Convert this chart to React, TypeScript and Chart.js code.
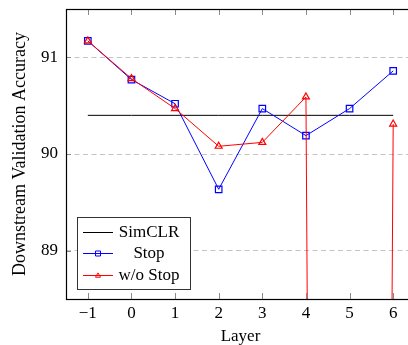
import React, { useEffect, useRef } from 'react';
import { Chart, registerables } from 'chart.js';

Chart.register(...registerables);

const layers = [-1, 0, 1, 2, 3, 4, 5, 6];
const simclrAcc = [90.4, 90.4, 90.4, 90.4, 90.4, 90.4, 90.4, 90.4];
const stopAcc = [91.17, 90.77, 90.52, 89.635, 90.47, 90.19, 90.47, 90.86];
const woStopAcc = [91.17, 90.78, 90.47, 90.08, 90.12, 90.59, 20, 90.31];
const seriesLabels = ['SimCLR', 'Stop', 'w/o Stop'];
const yTickValues = [89, 90, 91];
const xTickValues = [-1, 0, 1, 2, 3, 4, 5, 6];

const FONT = "'Liberation Serif', 'Times New Roman', serif";

function drawMarker(ctx: CanvasRenderingContext2D, kind: string, x: number, y: number, s: number, color: string) {
  ctx.save();
  ctx.strokeStyle = color;
  ctx.lineWidth = 1;
  ctx.beginPath();
  if (kind === 'rect') {
    ctx.rect(x - s / 2, y - s / 2, s, s);
  } else if (kind === 'triangle') {
    const h = s * 0.866;
    ctx.moveTo(x, y - h * 0.6);
    ctx.lineTo(x + s / 2, y + h * 0.4);
    ctx.lineTo(x - s / 2, y + h * 0.4);
    ctx.closePath();
  }
  ctx.stroke();
  ctx.restore();
}

const framePlugin = {
  id: 'framePlugin',
  afterDraw(chart: any) {
    const { ctx, chartArea } = chart;
    const { left, right, top, bottom } = chartArea;
    const xs = chart.scales.x;
    const ys = chart.scales.y;
    ctx.save();
    // tick marks (inward)
    ctx.strokeStyle = '#8a8a8a';
    ctx.lineWidth = 1;
    ctx.beginPath();
    for (const v of xTickValues) {
      const px = Math.round(xs.getPixelForValue(v)) + 0.5;
      ctx.moveTo(px, bottom);
      ctx.lineTo(px, bottom - 6);
      ctx.moveTo(px, top);
      ctx.lineTo(px, top + 6);
    }
    for (const v of yTickValues) {
      const py = Math.round(ys.getPixelForValue(v)) + 0.5;
      ctx.moveTo(left, py);
      ctx.lineTo(left + 5, py);
      ctx.moveTo(right, py);
      ctx.lineTo(right - 5, py);
    }
    ctx.stroke();
    // frame
    ctx.strokeStyle = '#000';
    ctx.lineWidth = 1.2;
    ctx.strokeRect(Math.round(left) + 0.5, Math.round(top) + 0.5, Math.round(right - left), Math.round(bottom - top));

    // legend
    const lx = left + 11;
    const ly = bottom - 82;
    const lw = 113;
    const lh = 72;
    ctx.fillStyle = '#fff';
    ctx.fillRect(lx, ly, lw, lh);
    ctx.strokeStyle = '#333';
    ctx.lineWidth = 1;
    ctx.strokeRect(Math.round(lx) + 0.5, Math.round(ly) + 0.5, lw, lh);
    const rows = [15, 36, 58];
    const kinds = ['none', 'rect', 'triangle'];
    chart.data.datasets.forEach((ds: any, i: number) => {
      const y = ly + rows[i];
      ctx.strokeStyle = ds.borderColor;
      ctx.lineWidth = 1;
      ctx.beginPath();
      ctx.moveTo(lx + 6, Math.round(y) + 0.5);
      ctx.lineTo(lx + 36, Math.round(y) + 0.5);
      ctx.stroke();
      if (kinds[i] !== 'none') drawMarker(ctx, kinds[i], lx + 21, Math.round(y) + 0.5, 5, ds.borderColor);
      ctx.fillStyle = '#000';
      ctx.font = `17px ${FONT}`;
      ctx.textAlign = 'center';
      ctx.textBaseline = 'middle';
      ctx.fillText(ds.label, lx + 72, y + 0.5);
    });
    ctx.restore();
  },
};

export default function App() {
  const ref = useRef<HTMLCanvasElement>(null);
  useEffect(() => {
    if (!ref.current) return;
    Chart.defaults.font.family = FONT;
    Chart.defaults.color = '#000';
    const mk = (vals: number[]) => layers.map((x, i) => ({ x, y: vals[i] }));
    const chart = new Chart(ref.current, {
      type: 'line',
      data: {
        datasets: [
          {
            label: seriesLabels[0],
            data: mk(simclrAcc),
            borderColor: '#000000',
            borderWidth: 1,
            pointRadius: 0,
            order: 3,
          },
          {
            label: seriesLabels[1],
            data: mk(stopAcc),
            borderColor: '#0000ff',
            backgroundColor: 'rgba(0,0,0,0)',
            borderWidth: 1,
            pointStyle: 'rect',
            pointRadius: 4.6,
            pointBorderWidth: 1.2,
            order: 2,
          },
          {
            label: seriesLabels[2],
            data: mk(woStopAcc),
            borderColor: '#ff0000',
            backgroundColor: 'rgba(0,0,0,0)',
            borderWidth: 1,
            pointStyle: 'triangle',
            pointRadius: 4,
            pointBorderWidth: 1.2,
            order: 1,
          },
        ],
      },
      options: {
        responsive: false,
        animation: false,
        events: [],
        layout: { padding: { left: 0, top: 9, right: 10, bottom: 0 } },
        plugins: { legend: { display: false }, tooltip: { enabled: false } },
        scales: {
          x: {
            type: 'linear',
            min: -1.5,
            max: 6.5,
            afterBuildTicks: (s: any) => { s.ticks = xTickValues.map((v) => ({ value: v })); },
            afterFit: (s: any) => { s.height = 46; s.paddingLeft = 0; s.paddingRight = 0; },
            grid: { display: false },
            border: { display: false },
            ticks: {
              padding: -4,
              maxRotation: 0,
              font: { size: 17 },
              callback: (v: any) => (Number(v) < 0 ? '\u2212' + Math.abs(Number(v)) : String(v)),
            },
            title: { display: true, text: 'Layer', font: { size: 17, lineHeight: 1.0 }, padding: { top: 0, bottom: 0 } },
          },
          y: {
            type: 'linear',
            min: 88.5,
            max: 91.5,
            afterBuildTicks: (s: any) => { s.ticks = yTickValues.map((v) => ({ value: v })); },
            afterFit: (s: any) => { s.width = 66; s.paddingTop = 0; s.paddingBottom = 0; },
            grid: { display: true, color: '#c4c4c4', lineWidth: 1, drawTicks: false },
            border: { display: false, dash: [5, 3.5] },
            ticks: { padding: 8, font: { size: 17 } },
            title: { display: true, text: 'Downstream Validation Accuracy', font: { size: 18 }, padding: { top: 9.5, bottom: 0 } },
          },
        },
      },
      plugins: [framePlugin],
    } as any);
    return () => chart.destroy();
  }, []);
  return (
    <div style={{ position: 'fixed', left: 0, top: 0, width: 408, height: 345, overflow: 'hidden', background: '#fff' }}>
      <canvas ref={ref} width={425} height={345} style={{ width: 425, height: 345, display: 'block' }} />
    </div>
  );
}
